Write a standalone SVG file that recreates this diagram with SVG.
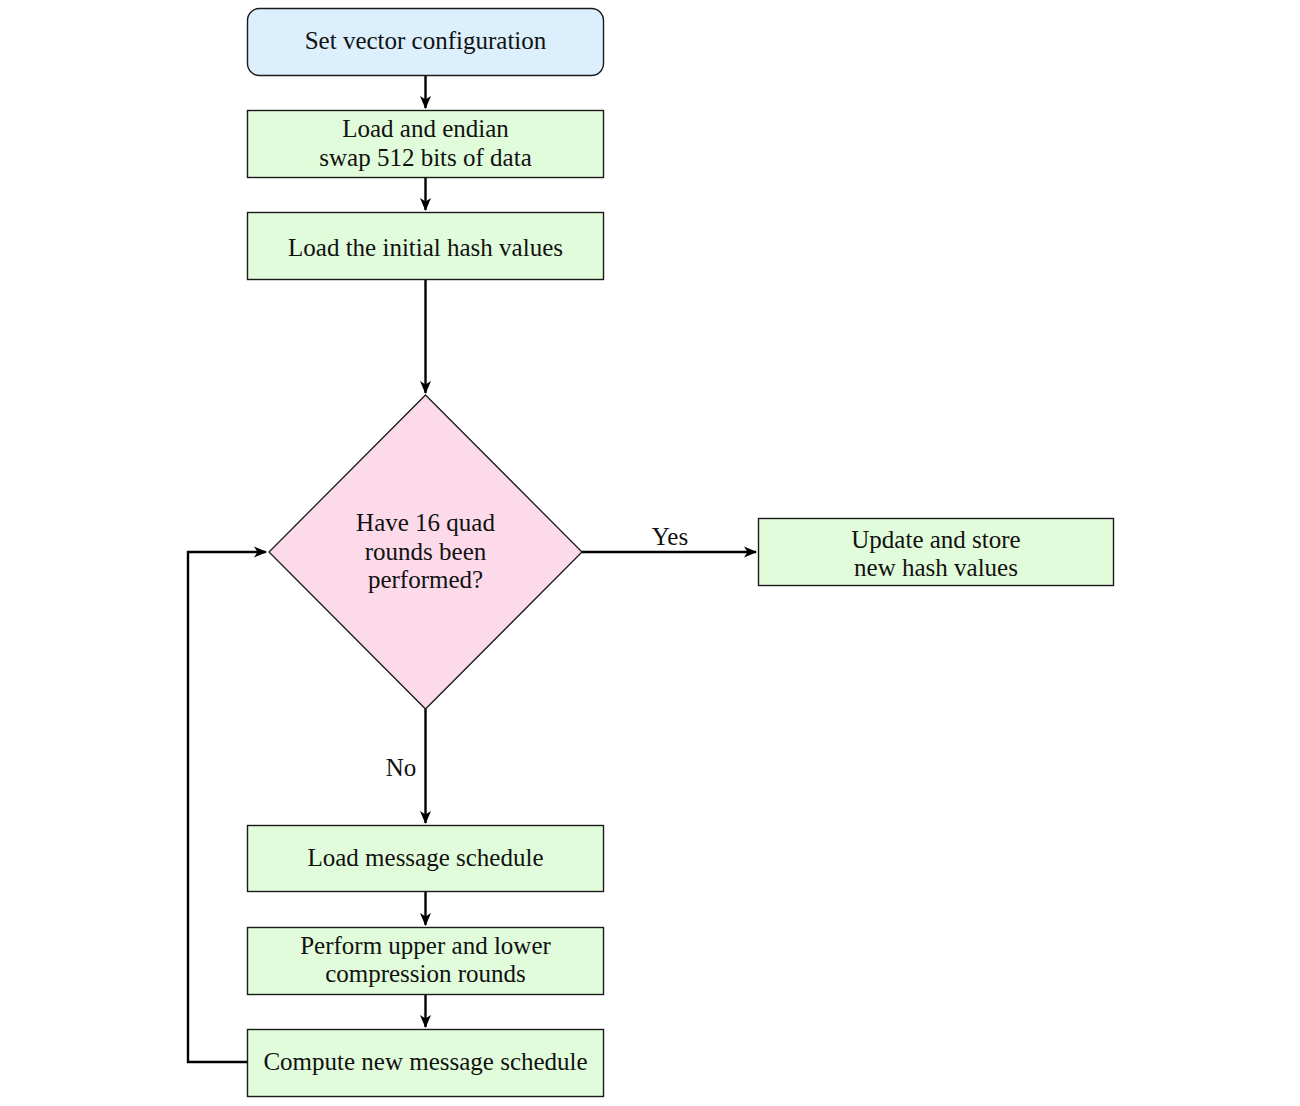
<svg xmlns="http://www.w3.org/2000/svg" width="1300" height="1106" viewBox="0 0 1300 1106">
<defs>
<marker id="arr" viewBox="0 0 13 12" refX="12" refY="6" markerWidth="13" markerHeight="12" markerUnits="userSpaceOnUse" orient="auto">
<path d="M0,0.5 L13,6 L0,11.5 L3.5,6 Z" fill="#000"/>
</marker>
<style>
.box{fill:#e1fcda;stroke:#1a1a1a;stroke-width:1.4}
.start{fill:#dbeffd;stroke:#1a1a1a;stroke-width:1.4}
.dec{fill:#fddaea;stroke:#1a1a1a;stroke-width:1.3}
.t{font-family:"Liberation Serif","DejaVu Serif",serif;font-size:25px;fill:#111;text-anchor:middle}
.c{fill:none;stroke:#000;stroke-width:2.4}
</style>
</defs>
<rect width="1300" height="1106" fill="#fff"/>
<g id="connectors">
<path class="c" d="M425.5,75 V108" marker-end="url(#arr)"/>
<path class="c" d="M425.5,178 V210" marker-end="url(#arr)"/>
<path class="c" d="M425.5,280 V393" marker-end="url(#arr)"/>
<path class="c" d="M582,552 H756" marker-end="url(#arr)"/>
<path class="c" d="M425.5,709 V823" marker-end="url(#arr)"/>
<path class="c" d="M425.5,892 V925" marker-end="url(#arr)"/>
<path class="c" d="M425.5,995 V1027" marker-end="url(#arr)"/>
<path class="c" d="M247,1062 H188 V552 H266" marker-end="url(#arr)"/>
<text class="t" x="670" y="545">Yes</text>
<text class="t" x="401" y="776">No</text>
</g>
<g id="n1">
<rect class="start" x="247.5" y="8.5" width="356" height="67" rx="12"/>
<text class="t" x="425.5" y="49">Set vector configuration</text>
</g>
<g id="n2">
<rect class="box" x="247.5" y="110.5" width="356" height="67"/>
<text class="t" x="425.5" y="137">Load and endian</text>
<text class="t" x="425.5" y="166">swap 512 bits of data</text>
</g>
<g id="n3">
<rect class="box" x="247.5" y="212.5" width="356" height="67"/>
<text class="t" x="425.5" y="256">Load the initial hash values</text>
</g>
<g id="n4">
<polygon class="dec" points="425.5,395 582,552 425.5,709 269,552"/>
<text class="t" x="425.5" y="531">Have 16 quad</text>
<text class="t" x="425.5" y="560">rounds been</text>
<text class="t" x="425.5" y="588">performed?</text>
</g>
<g id="n5">
<rect class="box" x="758.5" y="518.5" width="355" height="67"/>
<text class="t" x="936" y="548">Update and store</text>
<text class="t" x="936" y="576">new hash values</text>
</g>
<g id="n6">
<rect class="box" x="247.5" y="825.5" width="356" height="66"/>
<text class="t" x="425.5" y="866">Load message schedule</text>
</g>
<g id="n7">
<rect class="box" x="247.5" y="927.5" width="356" height="67"/>
<text class="t" x="425.5" y="954">Perform upper and lower</text>
<text class="t" x="425.5" y="982">compression rounds</text>
</g>
<g id="n8">
<rect class="box" x="247.5" y="1029.5" width="356" height="67"/>
<text class="t" x="425.5" y="1070">Compute new message schedule</text>
</g>
</svg>
